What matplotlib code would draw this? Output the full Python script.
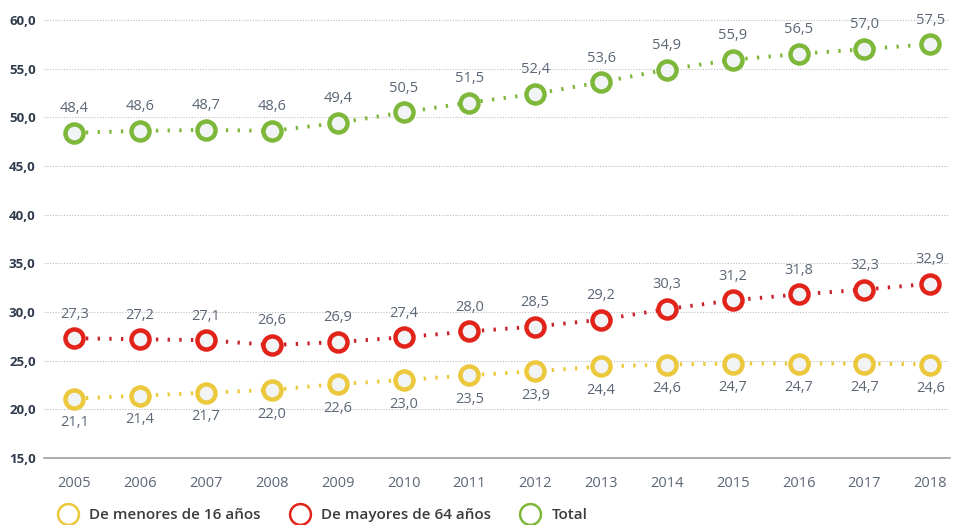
import matplotlib
matplotlib.use('Agg')
import matplotlib.pyplot as plt
from matplotlib.lines import Line2D

years = list(range(2005, 2019))
menores_16 = [21.1, 21.4, 21.7, 22.0, 22.6, 23.0, 23.5, 23.9, 24.4, 24.6, 24.7, 24.7, 24.7, 24.6]
mayores_64 = [27.3, 27.2, 27.1, 26.6, 26.9, 27.4, 28.0, 28.5, 29.2, 30.3, 31.2, 31.8, 32.3, 32.9]
total = [48.4, 48.6, 48.7, 48.6, 49.4, 50.5, 51.5, 52.4, 53.6, 54.9, 55.9, 56.5, 57.0, 57.5]
y_ticks = [15, 20, 25, 30, 35, 40, 45, 50, 55, 60]

series_names = ['De menores de 16 años', 'De mayores de 64 años', 'Total']
marker_colors = ['#ebc83c', '#e2231a', '#7db83a']
line_colors = ['#ebc83c', '#c8202a', '#7db83a']
label_pos = ['below', 'above', 'above']

plt.rcParams['font.family'] = ['Open Sans', 'DejaVu Sans']

fig = plt.figure(figsize=(9.57, 5.25), dpi=100)
ax = fig.add_axes([44 / 957, 1 - 458 / 525, 906 / 957, 443 / 525])

label_color = '#5b6676'

for vals, mc, lc, pos in zip([menores_16, mayores_64, total], marker_colors, line_colors, label_pos):
    ax.plot(years, vals, color=lc, lw=2.8, linestyle=(0, (0.6, 2.4)),
            dash_capstyle='butt', zorder=2)
    ax.plot(years, vals, linestyle='none', marker='o', markersize=13,
            markerfacecolor='#f2f3f5', markeredgecolor=mc, markeredgewidth=3.2, zorder=3)
    for x, v in zip(years, vals):
        dy = 12 if pos == 'above' else -12
        va = 'bottom' if pos == 'above' else 'top'
        ax.annotate(f'{v:.1f}'.replace('.', ','), (x, v), xytext=(0, dy),
                    textcoords='offset points', ha='center', va=va,
                    fontsize=10.5, color=label_color)

ax.set_xlim(2004.54, 2018.3)
ax.set_ylim(15, 60.5)
ax.set_yticks(y_ticks)
ax.set_yticklabels([f'{t:.1f}'.replace('.', ',') for t in y_ticks],
                   fontsize=9.5, fontweight='bold', color='#2f3b4c')
ax.set_xticks(years)
ax.set_xticklabels([str(y) for y in years], fontsize=10.5, color=label_color)
ax.tick_params(axis='both', length=0)
ax.tick_params(axis='x', pad=13)
ax.tick_params(axis='y', pad=6)

for t in y_ticks[1:]:
    ax.axhline(t, color='#bdbdbd', lw=0.8, linestyle=(0, (1, 1.5)), zorder=1)

for s in ['top', 'right', 'left']:
    ax.spines[s].set_visible(False)
ax.spines['bottom'].set_color('#a0a0a0')
ax.spines['bottom'].set_linewidth(1.2)

handles = [Line2D([], [], linestyle='none', marker='o', markersize=15,
                  markerfacecolor='white', markeredgecolor=c, markeredgewidth=1.8)
           for c in marker_colors]
leg = fig.legend(handles, series_names, loc='center left', bbox_to_anchor=(39 / 957, 1 - 515 / 525),
                 ncol=3, frameon=False, handletextpad=0.4, columnspacing=1.55,
                 prop={'size': 11, 'weight': 'semibold'})
for t in leg.get_texts():
    t.set_color('#3c3c3c')

fig.savefig('out.png', dpi=100)
